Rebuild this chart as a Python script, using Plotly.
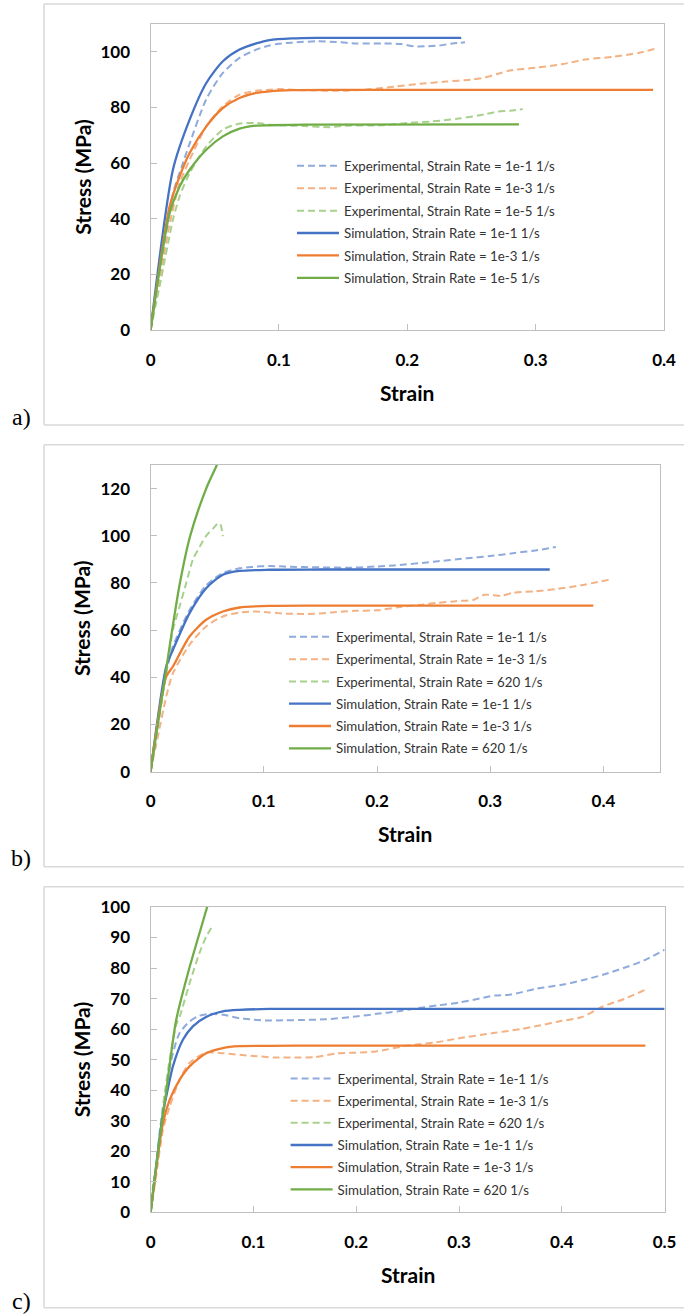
import plotly.graph_objects as go

W, H = 684, 1316

# ---------------- Panel a data ----------------
A_EXP_1_X = [0, 0.008, 0.0174, 0.0252, 0.0304, 0.0434, 0.0563, 0.0693, 0.0823, 0.0927, 0.1, 0.11, 0.13, 0.145, 0.16, 0.18, 0.195, 0.205, 0.215, 0.225, 0.235, 0.245]
A_EXP_1_Y = [0, 22, 49, 60, 67, 83, 92.4, 97.8, 100.8, 102.3, 102.9, 103.3, 103.8, 103.5, 103, 103, 102.8, 102, 102, 102.3, 103, 103.4]
A_EXP_3_X = [0, 0.0016, 0.006, 0.0148, 0.0226, 0.0304, 0.0434, 0.0563, 0.0693, 0.0823, 0.0927, 0.1, 0.12, 0.15, 0.17, 0.19, 0.21, 0.23, 0.25, 0.26, 0.27, 0.28, 0.3, 0.32, 0.34, 0.36, 0.38, 0.395]
A_EXP_3_Y = [0, 6, 15, 38, 52.8, 61.2, 73.2, 80.4, 84.6, 86, 86.4, 86.6, 86.2, 86, 86.5, 87.5, 88.5, 89.3, 90, 90.7, 92, 93.3, 94.3, 95.5, 97.3, 98.2, 99.6, 101.3]
A_EXP_5_X = [0, 0.008, 0.0174, 0.0226, 0.0304, 0.0434, 0.0563, 0.0693, 0.0823, 0.0927, 0.1, 0.12, 0.14, 0.15, 0.18, 0.2, 0.22, 0.24, 0.26, 0.27, 0.28, 0.29]
A_EXP_5_Y = [0, 18, 39.6, 48, 56.4, 66, 72, 74.2, 74.4, 73.8, 73.6, 73.3, 72.9, 73.4, 73.6, 74.4, 75, 76, 77.5, 78.5, 78.8, 79.4]
A_SIM_1_X = [0, 0.0174, 0.0304, 0.0434, 0.0563, 0.0693, 0.0823, 0.0927, 0.11, 0.13, 0.242]
A_SIM_1_Y = [0, 57.6, 75.6, 88.8, 96.6, 100.8, 103, 104.2, 104.8, 105, 105]
A_SIM_3_X = [0, 0.0148, 0.0226, 0.0304, 0.0434, 0.0563, 0.0693, 0.0823, 0.0927, 0.11, 0.15, 0.3915]
A_SIM_3_Y = [0, 44.4, 55.2, 63.6, 73.2, 79.8, 83.4, 85.2, 85.8, 86.2, 86.3, 86.3]
A_SIM_5_X = [0, 0.0148, 0.0226, 0.0304, 0.0434, 0.0563, 0.0693, 0.0823, 0.0927, 0.12, 0.287]
A_SIM_5_Y = [0, 42, 51.6, 57.6, 64.8, 69.6, 72.4, 73.5, 73.6, 73.8, 73.9]

# ---------------- Panel b data ----------------
B_EXP_1_X = [0, 0.006, 0.0138, 0.0197, 0.0344, 0.0491, 0.0638, 0.0785, 0.09, 0.105, 0.12, 0.15, 0.18, 0.2, 0.215, 0.25, 0.28, 0.3, 0.32, 0.34, 0.358]
B_EXP_1_Y = [0, 18, 42, 53, 68.5, 79, 84.2, 86.2, 86.8, 87.2, 86.9, 86.6, 86.5, 87, 87.4, 89, 90.5, 91.4, 92.6, 93.8, 95.2]
B_EXP_3_X = [0, 0.006, 0.0138, 0.0197, 0.0344, 0.0491, 0.0638, 0.0785, 0.093, 0.105, 0.12, 0.1445, 0.16, 0.18, 0.2, 0.22, 0.24, 0.252, 0.27, 0.285, 0.295, 0.31, 0.32, 0.34, 0.36, 0.38, 0.4046]
B_EXP_3_Y = [0, 14, 31.8, 41.7, 53.8, 61.6, 65.8, 67.5, 67.9, 67.5, 67, 66.9, 67.5, 68.2, 68.4, 69.8, 70.8, 71.5, 72.3, 72.8, 75, 74.6, 75.8, 76.5, 77.5, 79, 81.3]
B_EXP_620_X = [0, 0.002, 0.008, 0.014, 0.0197, 0.0256, 0.0315, 0.0374, 0.043, 0.0491, 0.055, 0.06, 0.062, 0.0638]
B_EXP_620_Y = [0, 8, 25, 42, 60, 70, 80, 90, 95, 100, 103, 105.4, 104.5, 99.8]
B_SIM_1_X = [0, 0.0138, 0.0197, 0.0344, 0.0491, 0.0638, 0.0785, 0.105, 0.15, 0.3526]
B_SIM_1_Y = [0, 44.6, 51.6, 67.2, 77.8, 83.5, 85.1, 85.6, 85.7, 85.7]
B_SIM_3_X = [0, 0.0138, 0.0197, 0.0344, 0.0491, 0.0638, 0.0785, 0.105, 0.15, 0.3911]
B_SIM_3_Y = [0, 40.3, 44.6, 57.3, 64.4, 67.9, 69.6, 70.3, 70.4, 70.4]
B_SIM_620_X = [0, 0.0062, 0.0124, 0.019, 0.0259, 0.035, 0.0491, 0.0585, 0.064]
B_SIM_620_Y = [0, 19.5, 39, 60, 80, 100, 120, 130, 137]

# ---------------- Panel c data ----------------
C_EXP_1_X = [0, 0.004, 0.0087, 0.0152, 0.0217, 0.0282, 0.0379, 0.0476, 0.0573, 0.0703, 0.0865, 0.1, 0.1156, 0.13, 0.15, 0.17, 0.2018, 0.22, 0.24, 0.261, 0.28, 0.3, 0.32, 0.335, 0.35, 0.376, 0.4, 0.42, 0.44, 0.46, 0.48, 0.5]
C_EXP_1_Y = [0, 10, 25.9, 41.2, 52.1, 58.7, 62.5, 64.4, 65, 64.7, 63.6, 63.1, 62.8, 62.9, 63, 63.2, 64.2, 65, 65.8, 66.9, 67.8, 68.7, 70, 71, 71.3, 73.3, 74.5, 76, 77.8, 80, 82.5, 86]
C_EXP_3_X = [0, 0.005, 0.012, 0.0185, 0.0282, 0.0379, 0.054, 0.0703, 0.0865, 0.1, 0.121, 0.14, 0.159, 0.18, 0.2, 0.219, 0.25, 0.278, 0.3, 0.333, 0.36, 0.38, 0.397, 0.42, 0.44, 0.46, 0.4813]
C_EXP_3_Y = [0, 11, 27, 34.6, 43.4, 48.9, 52.3, 52.1, 51.6, 51.2, 50.7, 50.7, 50.8, 52, 52.3, 52.7, 54.6, 55.7, 57, 58.7, 60, 61.3, 62.5, 64, 67.4, 69.8, 72.9]
C_EXP_620_X = [0, 0.0023, 0.0055, 0.012, 0.0185, 0.025, 0.0282, 0.0379, 0.0476, 0.054, 0.0612]
C_EXP_620_Y = [0, 8.4, 15, 34.6, 50, 61.6, 64, 75, 85, 90.2, 94.3]
C_SIM_1_X = [0, 0.012, 0.0152, 0.0217, 0.0314, 0.0411, 0.054, 0.0703, 0.0865, 0.1156, 0.15, 0.5]
C_SIM_1_Y = [0, 32.5, 37.9, 47.8, 56.5, 60.9, 64, 65.8, 66.3, 66.6, 66.6, 66.6]
C_SIM_3_X = [0, 0.012, 0.0185, 0.0282, 0.0379, 0.054, 0.0703, 0.0865, 0.1156, 0.15, 0.4813]
C_SIM_3_Y = [0, 29.2, 36.8, 43.4, 47.8, 52.1, 53.8, 54.4, 54.5, 54.6, 54.6]
C_SIM_620_X = [0, 0.005, 0.01, 0.015, 0.02, 0.0249, 0.0377, 0.0463, 0.055, 0.06]
C_SIM_620_Y = [0, 14, 27, 39, 52, 63, 80, 90, 100, 106]

X_TICKS_A = [0, 0.1, 0.2, 0.3, 0.4]
X_TICKS_B = [0, 0.1, 0.2, 0.3, 0.4]
X_TICKS_C = [0, 0.1, 0.2, 0.3, 0.4, 0.5]
Y_TICKS_A = [0, 20, 40, 60, 80, 100]
Y_TICKS_B = [0, 20, 40, 60, 80, 100, 120]
Y_TICKS_C = [0, 10, 20, 30, 40, 50, 60, 70, 80, 90, 100]

LABELS_A = ["Experimental, Strain Rate = 1e-1 1/s", "Experimental, Strain Rate = 1e-3 1/s",
            "Experimental, Strain Rate = 1e-5 1/s", "Simulation, Strain Rate = 1e-1 1/s",
            "Simulation, Strain Rate = 1e-3 1/s", "Simulation, Strain Rate = 1e-5 1/s"]
LABELS_BC = ["Experimental, Strain Rate = 1e-1 1/s", "Experimental, Strain Rate = 1e-3 1/s",
             "Experimental, Strain Rate = 620 1/s", "Simulation, Strain Rate = 1e-1 1/s",
             "Simulation, Strain Rate = 1e-3 1/s", "Simulation, Strain Rate = 620 1/s"]

SOLID = ["#4472C4", "#ED7D31", "#70AD47"]
LIGHT = ["#8FAADC", "#F4B183", "#A9D18E"]

FONT = "Lato"
ITEM_W = 42


def px(x):
    return x / W


def py(y):
    return 1 - y / H


fig = go.Figure()

panels = [
    dict(sfx="", leg="legend", labels=LABELS_A,
         exp=[(A_EXP_1_X, A_EXP_1_Y), (A_EXP_3_X, A_EXP_3_Y), (A_EXP_5_X, A_EXP_5_Y)],
         sim=[(A_SIM_1_X, A_SIM_1_Y), (A_SIM_3_X, A_SIM_3_Y), (A_SIM_5_X, A_SIM_5_Y)],
         xr=[0, 0.4], yr=[0, 110], xt=X_TICKS_A, yt=Y_TICKS_A,
         box=(150.6, 664, 24, 330), frame=(4, 425), leg_xy=(344, 150.7), gap=2.1,
         tag="a)", tag_y=417),
    dict(sfx="2", leg="legend2", labels=LABELS_BC,
         exp=[(B_EXP_1_X, B_EXP_1_Y), (B_EXP_3_X, B_EXP_3_Y), (B_EXP_620_X, B_EXP_620_Y)],
         sim=[(B_SIM_1_X, B_SIM_1_Y), (B_SIM_3_X, B_SIM_3_Y), (B_SIM_620_X, B_SIM_620_Y)],
         xr=[0, 0.45], yr=[0, 130], xt=X_TICKS_B, yt=Y_TICKS_B,
         box=(150.6, 660, 465, 771.7), frame=(444.7, 866.7), leg_xy=(336, 621.7), gap=2.0,
         tag="b)", tag_y=858),
    dict(sfx="3", leg="legend3", labels=LABELS_BC,
         exp=[(C_EXP_1_X, C_EXP_1_Y), (C_EXP_3_X, C_EXP_3_Y), (C_EXP_620_X, C_EXP_620_Y)],
         sim=[(C_SIM_1_X, C_SIM_1_Y), (C_SIM_3_X, C_SIM_3_Y), (C_SIM_620_X, C_SIM_620_Y)],
         xr=[0, 0.5], yr=[0, 100], xt=X_TICKS_C, yt=Y_TICKS_C,
         box=(150.6, 664.6, 907, 1212.3), frame=(886.7, 1307.7), leg_xy=(337.6, 1063.3), gap=1.9,
         tag="c)", tag_y=1301),
]

layout = dict(width=W, height=H, margin=dict(l=0, r=0, t=0, b=0, pad=0, autoexpand=False),
              paper_bgcolor="white", plot_bgcolor="white", showlegend=True,
              shapes=[], annotations=[])

for p in panels:
    xa = "x" + p["sfx"]
    ya = "y" + p["sfx"]
    series = [(p["exp"][i], LIGHT[i], "7px,4px", 2.0) for i in range(3)] + \
             [(p["sim"][i], SOLID[i], "solid", 2.3) for i in range(3)]
    for k, ((xs, ys), col, dash, w) in enumerate(series):
        fig.add_trace(go.Scatter(
            x=xs, y=ys, mode="lines", name=p["labels"][k],
            line=dict(color=col, dash=dash, width=w, shape="spline", smoothing=0.7),
            xaxis=xa, yaxis=ya, legend=p["leg"], legendgroup=p["leg"] + str(k),
            hoverinfo="skip"))
    x0, x1, y0, y1 = p["box"]
    axis_common = dict(showgrid=False, zeroline=False, showline=True, linecolor="#BFBFBF",
                       linewidth=1.2, mirror=True, ticks="inside", ticklen=6,
                       tickcolor="#BFBFBF", tickwidth=1, automargin=False,
                       tickfont=dict(family=FONT, size=17, color="black", weight="bold"))
    layout["xaxis" + p["sfx"]] = dict(axis_common, domain=[px(x0), px(x1)], range=p["xr"],
                                      anchor=ya, tickvals=p["xt"],
                                      ticktext=[("%g" % v) for v in p["xt"]],
                                      ticklabelstandoff=14)
    layout["yaxis" + p["sfx"]] = dict(axis_common, domain=[py(y1), py(y0)], range=p["yr"],
                                      anchor=xa, tickvals=p["yt"],
                                      ticktext=[str(v) for v in p["yt"]],
                                      ticklabelstandoff=16)
    lx, ly = p["leg_xy"]
    layout[p["leg"]] = dict(x=px(lx - ITEM_W - 10), y=py(ly), xanchor="left", yanchor="top",
                            bgcolor="rgba(0,0,0,0)", borderwidth=0, traceorder="grouped",
                            tracegroupgap=p["gap"], itemwidth=ITEM_W,
                            font=dict(family=FONT, size=13.3, color="#333333"))
    fa, fb = p["frame"]
    frame_line = dict(color="#D9D9D9", width=1.5)
    # chart frame: top, left and bottom edges (the right edge lies outside the page)
    for (ax0, ay0, ax1, ay1) in [(44, fa, W, fa), (44, fa, 44, fb), (44, fb, W, fb)]:
        layout["shapes"].append(dict(type="line", xref="paper", yref="paper",
                                     x0=px(ax0), y0=py(ay0), x1=px(ax1), y1=py(ay1),
                                     line=frame_line, layer="below"))
    # axis titles
    layout["annotations"].append(dict(text="<b>Strain</b>", xref="paper", yref="paper",
                                      x=px((x0 + x1) / 2), y=py(y1 + 62), showarrow=False,
                                      xanchor="center", yanchor="middle",
                                      font=dict(family=FONT, size=21, color="black")))
    layout["annotations"].append(dict(text="<b>Stress (MPa)</b>", xref="paper", yref="paper",
                                      x=px(81.7), y=py((y0 + y1) / 2), showarrow=False,
                                      textangle=-90, xanchor="center", yanchor="middle",
                                      font=dict(family=FONT, size=21, color="black")))
    layout["annotations"].append(dict(text=p["tag"], xref="paper", yref="paper",
                                      x=px(21), y=py(p["tag_y"]), showarrow=False,
                                      xanchor="center", yanchor="middle",
                                      font=dict(family="Liberation Serif", size=24, color="black")))

fig.update_layout(**layout)
fig.write_html("out.html")
